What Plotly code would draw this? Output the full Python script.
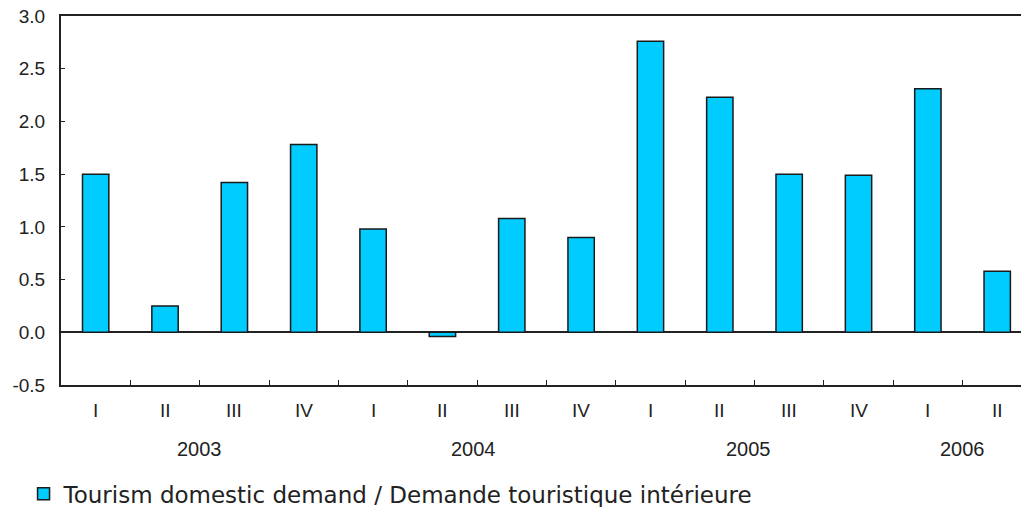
import plotly.graph_objects as go

quarters = ["I", "II", "III", "IV", "I", "II", "III", "IV", "I", "II", "III", "IV", "I", "II"]
values = [1.50, 0.25, 1.42, 1.78, 0.98, -0.04, 1.08, 0.90, 2.76, 2.23, 1.50, 1.49, 2.31, 0.58]
years = ["2003", "2004", "2005", "2006"]
year_centers = [1.5, 5.45, 9.42, 12.5]
y_ticks = [-0.5, 0.0, 0.5, 1.0, 1.5, 2.0, 2.5, 3.0]
y_ticktext = ["-0.5", "0.0", "0.5", "1.0", "1.5", "2.0", "2.5", "3.0"]
series_name = "Tourism domestic demand / Demande touristique intérieure"

FONT = "Liberation Sans, Arial, sans-serif"
x = list(range(len(values)))

fig = go.Figure()
fig.add_trace(go.Bar(
    x=x, y=values, name=series_name, width=0.38,
    marker=dict(color="#00CCFF", line=dict(color="#1a1a1a", width=1.5)),
    showlegend=True,
))

annotations = []
for i, q in enumerate(quarters):
    annotations.append(dict(x=i, y=-0.068, xref="x", yref="paper", text=q,
                            showarrow=False, font=dict(family=FONT, size=19, color="#222"),
                            xanchor="center", yanchor="middle"))
for yr, c in zip(years, year_centers):
    annotations.append(dict(x=c, y=-0.174, xref="x", yref="paper", text=yr,
                            showarrow=False, font=dict(family=FONT, size=20, color="#222"),
                            xanchor="center", yanchor="middle"))

fig.update_layout(
    width=1021, height=507,
    margin=dict(l=61, r=0, t=16, b=122, autoexpand=False),
    paper_bgcolor="white", plot_bgcolor="white",
    font=dict(family=FONT, size=19, color="#222"),
    showlegend=True,
    legend=dict(x=-0.039, y=-0.295, xanchor="left", yanchor="middle",
                font=dict(family="DejaVu Sans, sans-serif", size=23, color="#222"),
                bgcolor="rgba(0,0,0,0)", itemwidth=30),
    xaxis=dict(range=[-0.5, 13.343], showgrid=False, zeroline=False, automargin=False,
               showline=True, linecolor="#222", linewidth=2, mirror=True,
               tickvals=[i + 0.5 for i in range(13)], ticks="inside",
               ticklen=5, tickcolor="#222", showticklabels=False),
    yaxis=dict(range=[-0.5, 3.0], showgrid=False, automargin=False,
               tickvals=y_ticks, ticktext=y_ticktext, ticklabelstandoff=10,
               ticklabeloverflow="allow",
               showline=True, linecolor="#222", linewidth=2,
               ticks="inside", ticklen=4, tickcolor="#222",
               zeroline=True, zerolinecolor="#222", zerolinewidth=1.5,
               tickfont=dict(family=FONT, size=19, color="#222")),
    annotations=annotations,
    bargap=0.6,
)

fig.write_html("out.html", config={"displayModeBar": False},
               post_script="document.body.style.margin='0';document.body.style.overflow='hidden';")
